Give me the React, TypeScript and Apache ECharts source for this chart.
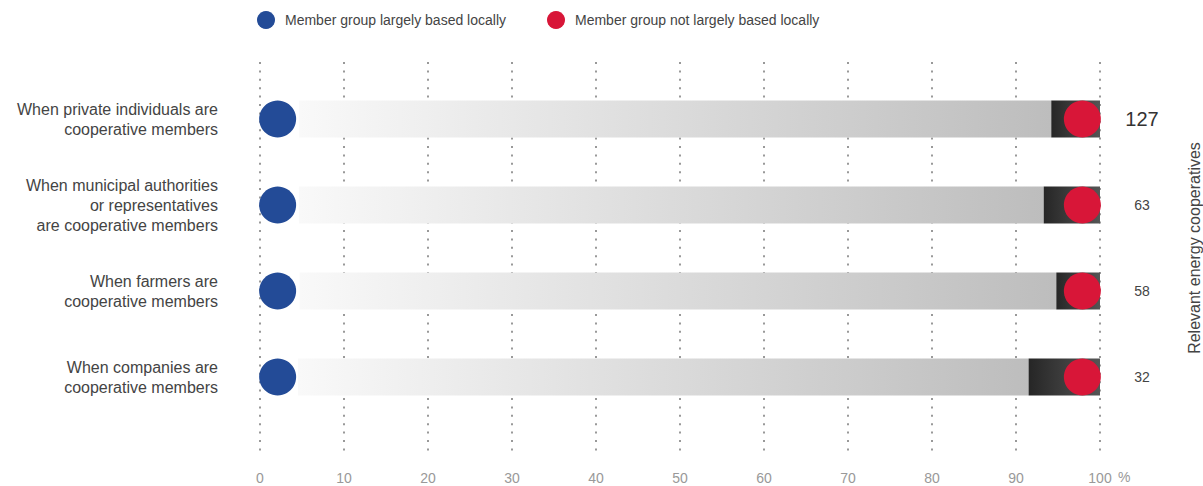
import React, { useEffect, useRef } from "react";
import * as echarts from "echarts";

const categories = [
  "When private individuals are\ncooperative members",
  "When municipal authorities\nor representatives\nare cooperative members",
  "When farmers are\ncooperative members",
  "When companies are\ncooperative members",
];
const localShare = [94.2, 93.3, 94.8, 91.5];
const nonLocalShare = [5.8, 6.7, 5.2, 8.5];
const cooperativeCounts = ["127", "63", "58", "32"];
const localMarker = [2.1, 2.1, 2.1, 2.1];
const nonLocalMarker = [97.9, 97.9, 97.9, 97.9];
const unitLabel = "%";

const FONT = "'Liberation Sans', Arial, Helvetica, sans-serif";

export default function App() {
  const ref = useRef<HTMLDivElement>(null);
  useEffect(() => {
    if (!ref.current) return;
    const chart = echarts.init(ref.current, undefined, { renderer: "svg" });
    const option: any = {
      animation: false,
      textStyle: { fontFamily: FONT },
      legend: {
        top: 6,
        left: 252,
        itemWidth: 18,
        itemHeight: 18,
        itemGap: 41,
        icon: "circle",
        data: ["Member group largely based locally", "Member group not largely based locally"],
        textStyle: { fontSize: 14, color: "#444", fontFamily: FONT, padding: [0, 0, 0, 5] },
      },
      graphic: [
        {
          type: "text",
          left: 1118,
          top: 470,
          style: { text: unitLabel, fontSize: 14, fill: "#999", fontFamily: FONT },
        },
      ],
      grid: [
        { left: 260, width: 840, top: 62, height: 390, outerBoundsMode: "none", containLabel: false },
        { left: 260, width: 840, top: 76, height: 344, outerBoundsMode: "none", containLabel: false },
      ],
      xAxis: [
        {
          gridIndex: 0,
          type: "value",
          min: 0,
          max: 100,
          interval: 10,
          axisLine: { show: false },
          axisTick: { show: false },
          splitLine: { show: true, lineStyle: { color: "#999", width: 2, type: [2, 6.4] } },
          axisLabel: {
            margin: 19,
            fontSize: 14,
            color: "#999",
            fontFamily: FONT,
          },
        },
        {
          gridIndex: 1,
          type: "value",
          min: 0,
          max: 100,
          show: false,
        },
      ],
      yAxis: [
        { gridIndex: 0, type: "value", show: false },
        {
          gridIndex: 1,
          type: "category",
          inverse: true,
          data: categories,
          axisLine: { show: false },
          axisTick: { show: false },
          splitLine: { show: false },
          axisLabel: {
            margin: 42,
            fontSize: 16,
            lineHeight: 20,
            color: "#444",
            fontFamily: FONT,
            align: "right",
          },
        },
        {
          gridIndex: 1,
          type: "category",
          inverse: true,
          position: "right",
          data: cooperativeCounts,
          axisLine: { show: false },
          axisTick: { show: false },
          splitLine: { show: false },
          axisLabel: {
            margin: 42,
            align: "center",
            color: "#444",
            fontFamily: FONT,
            formatter: (v: string, i: number) => (i === 0 ? `{big|${v}}` : `{small|${v}}`),
            rich: {
              big: { fontSize: 20, color: "#333", fontFamily: FONT },
              small: { fontSize: 14, color: "#444", fontFamily: FONT },
            },
          },
          name: "Relevant energy cooperatives",
          nameLocation: "middle",
          nameRotate: 90,
          nameGap: 86,
          nameTextStyle: { fontSize: 16, color: "#444", fontFamily: FONT },
        },
      ],
      series: [
        {
          type: "bar",
          name: "local share",
          xAxisIndex: 1,
          yAxisIndex: 1,
          stack: "a",
          barWidth: 37,
          data: localShare,
          itemStyle: {
            color: new echarts.graphic.LinearGradient(0, 0, 1, 0, [
              { offset: 0, color: "rgba(255,255,255,0)" },
              { offset: 0.049, color: "rgba(255,255,255,0)" },
              { offset: 0.05, color: "#f9f9f9" },
              { offset: 1, color: "#bdbdbd" },
            ]),
          },
          silent: true,
        },
        {
          type: "bar",
          name: "non-local share",
          xAxisIndex: 1,
          yAxisIndex: 1,
          stack: "a",
          barWidth: 37,
          data: nonLocalShare,
          itemStyle: {
            color: new echarts.graphic.LinearGradient(0, 0, 1, 0, [
              { offset: 0, color: "#262626" },
              { offset: 1, color: "#555555" },
            ]),
          },
          silent: true,
        },
        {
          type: "scatter",
          name: "Member group largely based locally",
          xAxisIndex: 1,
          yAxisIndex: 1,
          symbolSize: 37,
          z: 5,
          itemStyle: { color: "#234b97", opacity: 1 },
          data: localMarker.map((v, i) => [v, i]),
        },
        {
          type: "scatter",
          name: "Member group not largely based locally",
          xAxisIndex: 1,
          yAxisIndex: 1,
          symbolSize: 37,
          z: 5,
          itemStyle: { color: "#d81638", opacity: 1 },
          data: nonLocalMarker.map((v, i) => [v, i]),
        },
      ],
    };
    chart.setOption(option);
    return () => chart.dispose();
  }, []);
  return (
    <div
      ref={ref}
      style={{ width: 1203, height: 486, position: "absolute", left: 0, top: 0, background: "#fff" }}
    />
  );
}
